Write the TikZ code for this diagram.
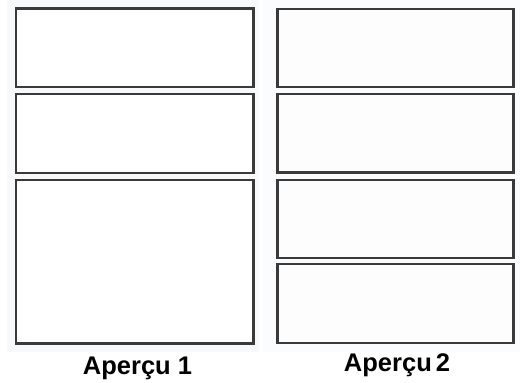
\documentclass[tikz,border=0pt]{standalone}
\usepackage{fontspec}
\setmainfont{Liberation Sans}
\definecolor{frame}{HTML}{3A3A3A}
\definecolor{panel}{HTML}{F8F9FB}
\definecolor{boxfill}{HTML}{FDFDFD}
\begin{document}
\begin{tikzpicture}[x=1pt,y=-1pt,
  pane/.style={draw=frame,line width=2.4pt,fill=white},
  paneb/.style={draw=frame,line width=2.4pt,fill=boxfill},
  lbl/.style={font=\bfseries\fontsize{25.5}{28}\selectfont,text=black,inner sep=0pt}]
\useasboundingbox (0,0) rectangle (520,383);
\fill[white] (0,0) rectangle (520,383);
\fill[panel] (7,0) rectangle (259,352);
\fill[panel!50!white] (263,0) rectangle (520,352);
% Apercu 1
\draw[pane] (16,8.5) rectangle (253.5,87) node[midway] (a1) {};
\draw[pane] (16,94) rectangle (253.5,173) node[midway] (a2) {};
\draw[pane] (16,180) rectangle (253.5,343.5) node[midway] (a3) {};
% Apercu 2
\draw[paneb] (277.5,9) rectangle (513.5,87) node[midway] (b1) {};
\draw[paneb] (277.5,94) rectangle (513.5,172.5) node[midway] (b2) {};
\draw[paneb] (277.5,180) rectangle (513.5,258) node[midway] (b3) {};
\draw[paneb] (277.5,264) rectangle (513.5,343) node[midway] (b4) {};
\node[lbl,anchor=base] (l1) at (137.5,374) {Aperçu 1};
\node[lbl,anchor=base] (l2) at (397,371) {Aperçu\kern4pt 2};
\end{tikzpicture}
\end{document}
